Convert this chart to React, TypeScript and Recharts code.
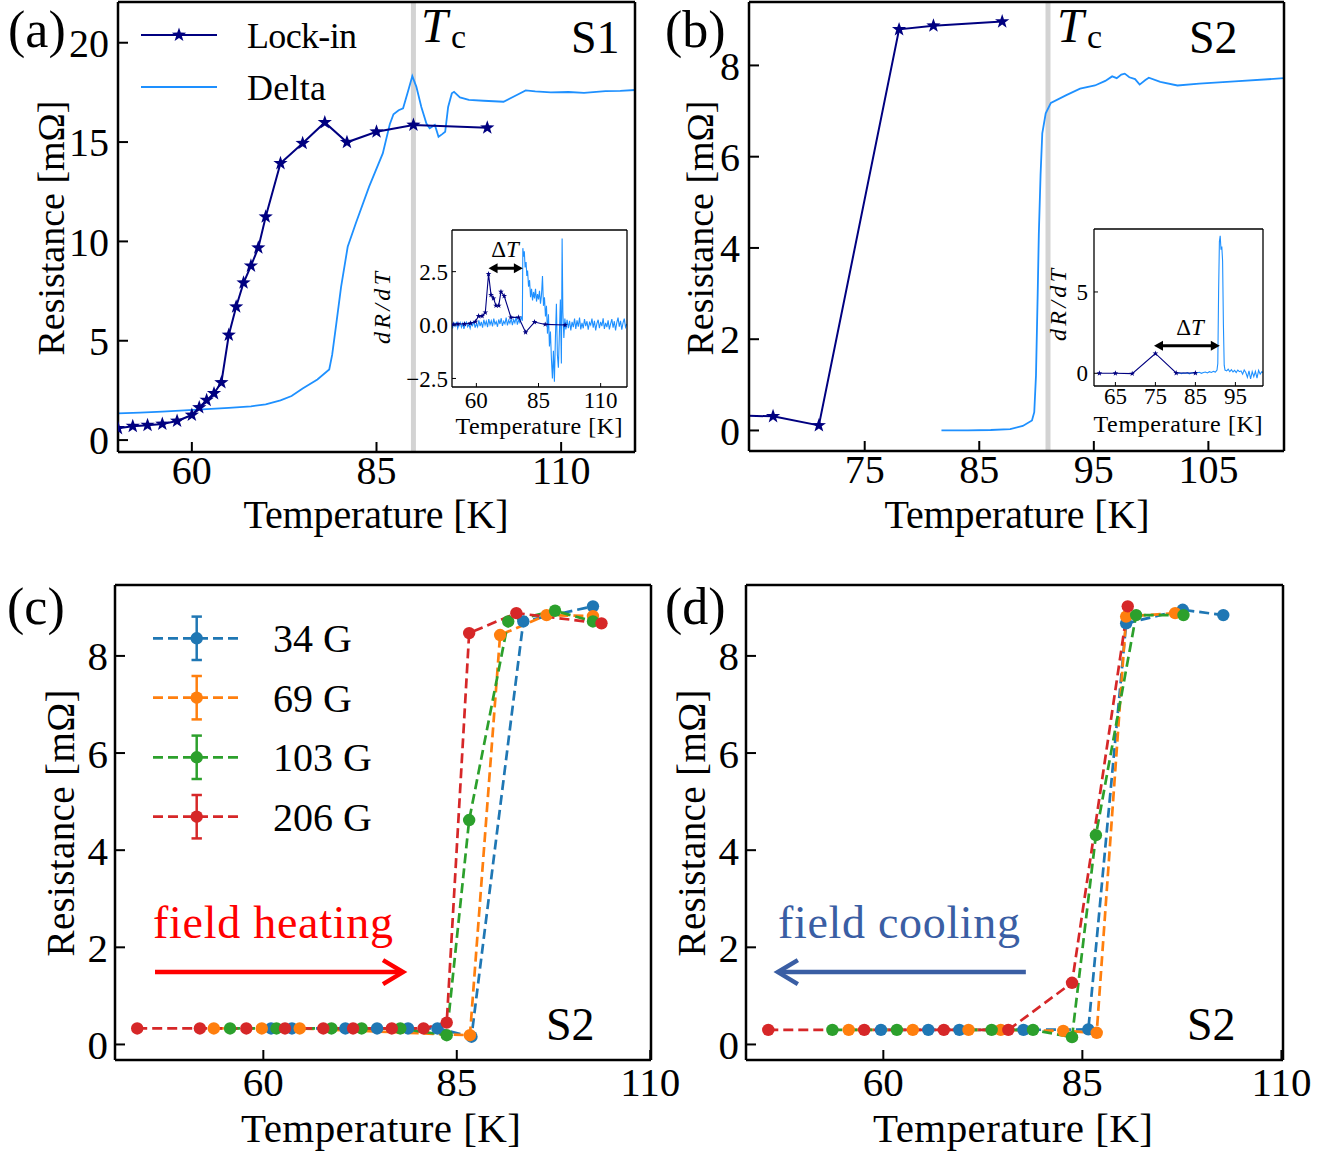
import React from 'react';
import { LineChart, Line, XAxis, YAxis, ReferenceLine } from 'recharts';

const FONT = '"Liberation Serif", "Times New Roman", serif';
const NAVY = '#000080';
const DELTA_BLUE = '#1e90ff';
const TC_GREY = '#d3d3d3';
const FIELD_COLORS = ['#1f77b4', '#ff7f0e', '#2ca02c', '#d62728'];
const FIELD_LABELS = ['34 G', '69 G', '103 G', '206 G'];
const HEAT_RED = '#ff0000';
const COOL_BLUE = '#3a5ea4';

// ---------- (a) sample S1: resistance vs temperature ----------
const s1LockIn: [number, number][] = [
  [50, 0.59], [52, 0.70], [54, 0.75], [56, 0.81], [58, 0.96], [60, 1.26], [61, 1.64], [62, 2.01],
  [63, 2.35], [64, 2.90], [65, 5.29], [66, 6.71], [67, 7.92], [68, 8.77], [69, 9.68], [70, 11.24],
  [72, 13.93], [75, 14.94], [78, 15.99], [81, 14.99], [85, 15.52], [90, 15.86], [100, 15.72],
];
const s1Delta: [number, number][] = [
  [50, 1.34], [53, 1.38], [56, 1.43], [59, 1.50], [62, 1.56], [65, 1.62], [68, 1.70], [70, 1.80],
  [72, 2.00], [73.5, 2.22], [75, 2.60], [77, 3.05], [78.6, 3.55], [79.0, 4.30], [79.5, 5.70],
  [80.2, 7.70], [81.1, 9.73], [82.2, 10.91], [84.0, 12.76], [85.85, 14.43], [86.8, 15.90],
  [87.3, 16.40], [88.0, 16.60], [88.6, 16.70], [89.3, 17.60], [89.85, 18.32], [90.4, 17.78],
  [91.07, 16.77], [91.76, 15.93], [92.2, 15.69], [92.9, 15.86], [93.4, 15.27], [93.9, 15.40],
  [94.3, 15.52], [94.7, 16.77], [95.2, 17.45], [95.5, 17.53], [96.3, 17.25], [97.5, 17.12],
  [99.5, 17.08], [102.2, 17.03], [104.0, 17.37], [105.2, 17.60], [106.5, 17.55], [108.6, 17.50],
  [111, 17.52], [113.1, 17.48], [116, 17.56], [118, 17.58], [120, 17.62],
];
const s1Tc = 90;

// inset (a): dR/dT
const s1dLockIn: [number, number][] = [
  [50.7, 0.03], [52.6, 0.05], [55.2, 0.05], [57.6, 0.08], [59.6, 0.16], [60.9, 0.42], [62.3, 0.42],
  [63.6, 0.59], [64.9, 2.39], [65.9, 1.41], [66.9, 1.25], [67.9, 0.91], [69.0, 0.91], [69.9, 1.56],
  [71.2, 1.36], [73.9, 0.36], [77.0, 0.36], [79.8, -0.34], [83.4, 0.14], [87.7, 0.03], [95.7, 0.0],
];
const s1dDelta: [number, number][] = [
  [50.0, 0.05], [50.5, -0.12], [51.0, 0.10], [51.5, -0.05], [52.0, 0.15], [52.5, -0.15], [53.0, 0.02],
  [53.5, 0.12], [54.0, -0.10], [54.5, 0.08], [55.0, -0.18], [55.5, 0.05], [56.0, 0.14], [56.5, -0.08],
  [57.0, 0.03], [57.5, -0.16], [58.0, 0.10], [58.5, -0.02], [59.0, 0.18], [59.5, -0.12], [60.0, 0.06],
  [60.5, -0.08], [61.0, 0.22], [61.5, -0.05], [62.0, 0.15], [62.5, -0.12], [63.0, 0.25], [63.5, 0.00],
  [64.0, 0.18], [64.5, -0.10], [65.0, 0.28], [65.5, 0.02], [66.0, 0.20], [66.5, -0.06], [67.0, 0.30],
  [67.5, 0.04], [68.0, 0.16], [68.5, -0.08], [69.0, 0.26], [69.5, 0.05], [70.0, 0.32], [70.5, -0.04],
  [71.0, 0.18], [71.5, 0.06], [72.0, 0.35], [72.5, -0.02], [73.0, 0.22], [73.5, 0.08], [74.0, 0.30],
  [74.5, 0.00], [75.0, 0.25], [75.5, 0.10], [76.0, 0.38], [76.5, 0.02], [77.0, 0.24], [77.5, 0.12],
  [78.0, 0.40], [78.5, 0.20], [78.7, 3.60], [79.0, 3.20], [79.3, 3.45], [79.6, 2.70], [80.0, 2.95],
  [80.3, 2.30], [80.6, 2.55], [81.0, 1.80], [81.4, 2.10], [81.8, 1.30], [82.2, 1.70], [82.6, 1.15],
  [83.0, 1.55], [83.4, 1.25], [83.8, 1.70], [84.2, 1.10], [84.6, 1.45], [85.0, 1.20], [85.4, 1.60],
  [85.8, 1.00], [86.2, 1.40], [86.6, 2.30], [87.0, 0.90], [87.4, 1.30], [87.8, 0.40], [88.2, 0.90],
  [88.6, -0.40], [89.0, 0.50], [89.4, -1.00], [89.8, -0.30], [90.2, -1.60], [90.6, -2.50], [91.0, -1.20],
  [91.4, -2.65], [91.8, -0.60], [92.2, 1.00], [92.6, -1.40], [93.0, -2.00], [93.4, -0.40], [93.8, 1.20],
  [94.2, -1.80], [94.5, 4.05], [94.8, 0.60], [95.2, -0.60], [95.6, 0.30], [96.0, -0.20], [96.5, 0.25],
  [97.0, -0.15], [97.5, 0.20], [98.0, -0.25], [98.5, 0.15], [99.0, -0.10], [99.5, 0.30], [100.0, -0.18],
  [100.5, 0.22], [101.0, -0.08], [101.5, 0.35], [102.0, -0.20], [102.5, 0.10], [103.0, -0.15],
  [103.5, 0.28], [104.0, -0.05], [104.5, 0.18], [105.0, -0.22], [105.5, 0.12], [106.0, 0.00],
  [106.5, 0.30], [107.0, -0.12], [107.5, 0.20], [108.0, -0.25], [108.5, 0.08], [109.0, 0.25],
  [109.5, -0.15], [110.0, 0.15], [110.5, -0.05], [111.0, 0.32], [111.5, -0.18], [112.0, 0.10],
  [112.5, -0.10], [113.0, 0.22], [113.5, -0.20], [114.0, 0.05], [114.5, 0.28], [115.0, -0.12],
  [115.5, 0.18], [116.0, -0.25], [116.5, 0.12], [117.0, 0.35], [117.5, -0.08], [118.0, 0.20],
  [118.5, -0.22], [119.0, 0.10], [119.5, 0.30], [120.0, -0.10], [120.5, 0.05],
];
const s1WidthSpan = [64.9, 78.7];
const s1WidthLevel = 2.66;

// ---------- (b) sample S2: resistance vs temperature ----------
const s2LockIn: [number, number][] = [
  [63, 0.33], [67, 0.31], [71, 0.11], [78, 8.79], [81, 8.87], [87, 8.96],
];
const s2Delta: [number, number][] = [
  [81.7, 0.0], [84, 0.0], [86, 0.01], [87.7, 0.03], [88.8, 0.10], [89.6, 0.22], [89.8, 0.40],
  [89.95, 1.2], [90.1, 3.0], [90.2, 4.32], [90.35, 5.6], [90.5, 6.51], [90.8, 6.95], [91.25, 7.18],
  [92.6, 7.35], [93.8, 7.49], [95.1, 7.56], [96.0, 7.66], [96.6, 7.76], [97.0, 7.72], [97.4, 7.80],
  [97.7, 7.82], [98.1, 7.74], [98.6, 7.70], [99.0, 7.58], [99.5, 7.68], [99.8, 7.73], [100.8, 7.64],
  [102.3, 7.56], [104.2, 7.60], [107.3, 7.65], [111.6, 7.72],
];
const s2Tc = 91;

// inset (b): dR/dT
const s2dLockIn: [number, number][] = [
  [61, 0.0], [65, 0.0], [69.2, -0.02], [75, 1.22], [80.2, 0.02], [85, 0.02],
];
const s2dDelta: [number, number][] = [
  [80.5, 0.00], [81.0, 0.03], [81.5, -0.02], [82.0, 0.02], [82.5, 0.00], [83.0, 0.04], [83.5, -0.03],
  [84.0, 0.02], [84.5, 0.05], [85.0, -0.02], [85.5, 0.03], [86.0, 0.06], [86.5, 0.00], [87.0, 0.05],
  [87.5, 0.08], [88.0, 0.02], [88.5, 0.10], [89.0, 0.05], [89.5, 0.12], [90.0, 0.08], [90.4, 0.20],
  [90.6, 0.60], [90.8, 5.00], [91.0, 8.10], [91.2, 8.45], [91.4, 7.60], [91.6, 7.80], [91.8, 6.90],
  [92.0, 3.00], [92.2, 0.50], [92.4, 0.20], [92.8, 0.15], [93.2, 0.25], [93.6, 0.10], [94.0, 0.22],
  [94.4, 0.08], [94.8, 0.18], [95.2, 0.05], [95.6, 0.20], [96.0, 0.10], [96.4, 0.15], [96.8, -0.05],
  [97.2, 0.20], [97.6, 0.05], [98.0, -0.25], [98.4, 0.15], [98.8, -0.35], [99.2, 0.10], [99.6, -0.20],
  [100.0, 0.12], [100.4, -0.30], [100.8, 0.18], [101.2, -0.05], [101.6, 0.10], [101.9, 0.05],
];
const s2WidthSpan = [74.65, 91.1];
const s2WidthLevel = 1.69;

// ---------- (c) field heating, S2 ----------
const heat34: [number, number][] = [
  [61.0, 0.33], [63.7, 0.33], [70.6, 0.33], [74.7, 0.33], [78.7, 0.33], [82.5, 0.33], [86.9, 0.16],
  [93.6, 8.71], [102.6, 9.02],
];
const heat69: [number, number][] = [
  [53.6, 0.33], [59.8, 0.33], [64.7, 0.33], [86.7, 0.19], [90.6, 8.43], [96.6, 8.84], [102.6, 8.82],
];
const heat103: [number, number][] = [
  [55.7, 0.33], [61.7, 0.33], [68.8, 0.33], [72.7, 0.33], [77.7, 0.33], [83.7, 0.19], [86.6, 4.62],
  [91.65, 8.71], [97.7, 8.93], [102.6, 8.71],
];
const heat206: [number, number][] = [
  [43.7, 0.33], [51.8, 0.33], [57.8, 0.33], [62.8, 0.33], [67.75, 0.33], [71.6, 0.33], [76.6, 0.33],
  [80.7, 0.33], [83.7, 0.45], [86.6, 8.47], [92.7, 8.88], [103.7, 8.67],
];
const heatArrow = [46.0, 78.05];

// ---------- (d) field cooling, S2 ----------
const cool34: [number, number][] = [
  [59.7, 0.30], [65.65, 0.30], [69.55, 0.30], [77.6, 0.30], [85.75, 0.31], [90.5, 8.67], [97.6, 8.95],
  [102.7, 8.84],
];
const cool69: [number, number][] = [
  [55.65, 0.30], [63.7, 0.30], [70.7, 0.30], [74.75, 0.30], [82.6, 0.28], [86.8, 0.24], [90.5, 8.81],
  [96.65, 8.88],
];
const cool103: [number, number][] = [
  [53.6, 0.30], [61.7, 0.30], [73.6, 0.30], [78.8, 0.30], [83.7, 0.15], [86.7, 4.31], [91.75, 8.84],
  [97.7, 8.84],
];
const cool206: [number, number][] = [
  [45.55, 0.30], [57.6, 0.30], [67.6, 0.30], [75.7, 0.30], [83.7, 1.27], [90.7, 9.02],
];
const coolArrow = [77.9, 46.75];
const arrowLevel = 1.49;

const toRows = (pairs: [number, number][]) => pairs.map(([t, r]) => ({ t, r }));
// vertical guide at T_c spanning well past the visible resistance range (clipped by the plot)
const tcRows = (tc: number) => [{ t: tc, r: -100 }, { t: tc, r: 100 }];

// ---------- drawing helpers ----------
function starPoints(cx: number, cy: number, R: number) {
  const inner = R * 0.4;
  const pts: string[] = [];
  for (let i = 0; i < 10; i++) {
    const a = -Math.PI / 2 + (i * Math.PI) / 5;
    const rad = i % 2 === 0 ? R : inner;
    pts.push(`${cx + rad * Math.cos(a)},${cy + rad * Math.sin(a)}`);
  }
  return pts.join(' ');
}

const starDot = (R: number) => (p: any) => {
  if (p.cx == null || p.cy == null) return <g key={p.index} />;
  return <polygon key={p.index} points={starPoints(p.cx, p.cy, R)} fill={NAVY} />;
};

type FrameSpec = {
  xDomain: [number, number];
  xTicks: number[];
  yDomain: [number, number];
  yTicks: number[];
  xh: number;
  yw: number;
  tl: number;
  fw: number;
  tw: number;
  fs: number;
  xm: number;
  ym: number;
  yfmt?: (v: number) => string;
};

function frameAxes(s: FrameSpec) {
  const axisLine = { stroke: '#000', strokeWidth: s.fw };
  const tickLine = { stroke: '#000', strokeWidth: s.tw };
  const tick = { fill: '#000', fontSize: s.fs, fontFamily: FONT };
  return [
    <XAxis key="xb" xAxisId="b" type="number" dataKey="t" domain={s.xDomain} ticks={s.xTicks}
      allowDataOverflow interval={0} height={s.xh} tickSize={-s.tl} tickMargin={s.xm}
      axisLine={axisLine} tickLine={tickLine} tick={tick} />,
    <XAxis key="xt" xAxisId="t" type="number" orientation="top" domain={s.xDomain} ticks={s.xTicks}
      allowDataOverflow interval={0} height={1} tickSize={-s.tl}
      axisLine={axisLine} tickLine={tickLine} tick={false} />,
    <YAxis key="yl" yAxisId="l" type="number" domain={s.yDomain} ticks={s.yTicks}
      allowDataOverflow interval={0} width={s.yw} tickSize={-s.tl} tickMargin={s.ym}
      axisLine={axisLine} tickLine={tickLine} tick={tick} tickFormatter={s.yfmt} />,
    <YAxis key="yr" yAxisId="r" type="number" orientation="right" domain={s.yDomain} ticks={s.yTicks}
      allowDataOverflow interval={0} width={1} tickSize={-s.tl}
      axisLine={axisLine} tickLine={tickLine} tick={false} />,
  ];
}

const DoubleArrow = (p: any) => {
  const xa = Math.min(p.x1, p.x2);
  const xb = Math.max(p.x1, p.x2);
  const y = p.y1;
  const h = 9;
  const w = 5;
  return (
    <g>
      <line x1={xa + h - 1} y1={y} x2={xb - h + 1} y2={y} stroke="#000" strokeWidth={3} />
      <polygon points={`${xa},${y} ${xa + h},${y - w} ${xa + h},${y + w}`} fill="#000" />
      <polygon points={`${xb},${y} ${xb - h},${y - w} ${xb - h},${y + w}`} fill="#000" />
    </g>
  );
};

const fieldArrow = (color: string) => (p: any) => {
  const dir = Math.sign(p.x2 - p.x1) || 1;
  const { x1, x2, y1 } = p;
  return (
    <g>
      <line x1={x1} y1={y1} x2={x2 - dir * 2} y2={y1} stroke={color} strokeWidth={4.5} />
      <polyline points={`${x2 - dir * 20},${y1 - 12} ${x2},${y1} ${x2 - dir * 20},${y1 + 12}`}
        fill="none" stroke={color} strokeWidth={4.5} strokeLinejoin="miter" />
    </g>
  );
};

const Box = ({ left, top, children }: { left: number; top: number; children: React.ReactNode }) => (
  <div style={{ position: 'absolute', left, top }}>{children}</div>
);

const fmtInset = (v: number) => (v < 0 ? '\u2212' + Math.abs(v).toFixed(1) : v.toFixed(1));

function fieldLines(series: [number, number][][]) {
  return series.map((s, i) => (
    <Line key={FIELD_LABELS[i]} xAxisId="b" yAxisId="l" data={toRows(s)} dataKey="r" type="linear"
      stroke={FIELD_COLORS[i]} strokeWidth={2.7} strokeDasharray="10 5" isAnimationActive={false}
      dot={{ r: 6.2, fill: FIELD_COLORS[i], stroke: 'none', strokeWidth: 0, strokeDasharray: '' }}
      activeDot={false} />
  ));
}

const mainTicksCD = { xTicks: [60, 85, 110], yTicks: [0, 2, 4, 6, 8], xh: 60, yw: 80, tl: 10, fw: 2.5, tw: 2, fs: 41, xm: 17, ym: 17 };

export default function App() {
  const serif = { fontFamily: FONT, fill: '#000' } as const;
  const legendRows = [638.3, 697.7, 757.3, 816.7];
  return (
    <div style={{ position: 'absolute', left: 0, top: 0, width: 1335, height: 1153, background: '#fff', overflow: 'hidden' }}>
      {/* (a) S1 */}
      <Box left={0} top={0}>
        <LineChart width={660} height={520} margin={{ top: 1, right: 24, bottom: 8, left: 38 }}>
          {frameAxes({ xDomain: [50, 120], xTicks: [60, 85, 110], yDomain: [-0.6, 22.05], yTicks: [0, 5, 10, 15, 20], xh: 60, yw: 80, tl: 10, fw: 2.5, tw: 2, fs: 40, xm: 14, ym: 19 })}
          <Line xAxisId="b" yAxisId="l" data={tcRows(s1Tc)} dataKey="r" stroke={TC_GREY} strokeWidth={5} dot={false} activeDot={false} isAnimationActive={false} />
          <Line xAxisId="b" yAxisId="l" data={toRows(s1Delta)} dataKey="r" stroke={DELTA_BLUE} strokeWidth={1.8} dot={false} activeDot={false} isAnimationActive={false} />
          <Line xAxisId="b" yAxisId="l" data={toRows(s1LockIn)} dataKey="r" stroke={NAVY} strokeWidth={2} dot={starDot(7.5)} activeDot={false} isAnimationActive={false} />
        </LineChart>
      </Box>

      {/* (b) S2 */}
      <Box left={660} top={0}>
        <LineChart width={650} height={520} margin={{ top: 1, right: 25, bottom: 9, left: 9 }}>
          {frameAxes({ xDomain: [64.9, 111.6], xTicks: [75, 85, 95, 105], yDomain: [-0.45, 9.39], yTicks: [0, 2, 4, 6, 8], xh: 60, yw: 80, tl: 10, fw: 2.5, tw: 2, fs: 40, xm: 14, ym: 19 })}
          <Line xAxisId="b" yAxisId="l" data={tcRows(s2Tc)} dataKey="r" stroke={TC_GREY} strokeWidth={5} dot={false} activeDot={false} isAnimationActive={false} />
          <Line xAxisId="b" yAxisId="l" data={toRows(s2Delta)} dataKey="r" stroke={DELTA_BLUE} strokeWidth={1.8} dot={false} activeDot={false} isAnimationActive={false} />
          <Line xAxisId="b" yAxisId="l" data={toRows(s2LockIn)} dataKey="r" stroke={NAVY} strokeWidth={2} dot={starDot(7.5)} activeDot={false} isAnimationActive={false} />
        </LineChart>
      </Box>

      {/* (c) field heating */}
      <Box left={0} top={560}>
        <LineChart width={680} height={560} margin={{ top: 24, right: 28, bottom: 0, left: 35 }}>
          {frameAxes({ ...mainTicksCD, xDomain: [40.83, 110.1], yDomain: [-0.32, 9.46] })}
          {fieldLines([heat34, heat69, heat103, heat206])}
          <ReferenceLine xAxisId="b" yAxisId="l" segment={[{ x: heatArrow[0], y: arrowLevel }, { x: heatArrow[1], y: arrowLevel }]}
            shape={fieldArrow(HEAT_RED)} />
        </LineChart>
      </Box>

      {/* (d) field cooling */}
      <Box left={660} top={560}>
        <LineChart width={670} height={560} margin={{ top: 24, right: 46, bottom: 0, left: 6 }}>
          {frameAxes({ ...mainTicksCD, xDomain: [42.75, 110.2], yDomain: [-0.32, 9.46] })}
          {fieldLines([cool34, cool69, cool103, cool206])}
          <ReferenceLine xAxisId="b" yAxisId="l" segment={[{ x: coolArrow[0], y: arrowLevel }, { x: coolArrow[1], y: arrowLevel }]}
            shape={fieldArrow(COOL_BLUE)} />
        </LineChart>
      </Box>

      {/* inset (a) */}
      <Box left={400} top={220}>
        <LineChart width={240} height={200} margin={{ top: 9, right: 12, bottom: 3, left: 0 }}>
          {frameAxes({ xDomain: [50.2, 120.6], xTicks: [60, 85, 110], yDomain: [-2.9, 4.45], yTicks: [-2.5, 0, 2.5], xh: 30, yw: 52, tl: 4, fw: 1.3, tw: 1, fs: 23, xm: 9, ym: 8, yfmt: fmtInset })}
          <Line xAxisId="b" yAxisId="l" data={toRows(s1dDelta)} dataKey="r" stroke={DELTA_BLUE} strokeWidth={1.1} dot={false} activeDot={false} isAnimationActive={false} />
          <Line xAxisId="b" yAxisId="l" data={toRows(s1dLockIn)} dataKey="r" stroke={NAVY} strokeWidth={1.1} dot={starDot(3)} activeDot={false} isAnimationActive={false} />
          <ReferenceLine xAxisId="b" yAxisId="l" segment={[{ x: s1WidthSpan[0], y: s1WidthLevel }, { x: s1WidthSpan[1], y: s1WidthLevel }]} shape={DoubleArrow} />
        </LineChart>
      </Box>

      {/* inset (b) */}
      <Box left={1040} top={219}>
        <LineChart width={240} height={200} margin={{ top: 9, right: 16, bottom: 3, left: 0 }}>
          {frameAxes({ xDomain: [59.65, 101.9], xTicks: [65, 75, 85, 95], yDomain: [-0.78, 8.87], yTicks: [0, 5], xh: 30, yw: 54, tl: 4, fw: 1.3, tw: 1, fs: 23, xm: 6, ym: 10 })}
          <Line xAxisId="b" yAxisId="l" data={toRows(s2dDelta)} dataKey="r" stroke={DELTA_BLUE} strokeWidth={1.1} dot={false} activeDot={false} isAnimationActive={false} />
          <Line xAxisId="b" yAxisId="l" data={toRows(s2dLockIn)} dataKey="r" stroke={NAVY} strokeWidth={1.1} dot={starDot(3)} activeDot={false} isAnimationActive={false} />
          <ReferenceLine xAxisId="b" yAxisId="l" segment={[{ x: s2WidthSpan[0], y: s2WidthLevel }, { x: s2WidthSpan[1], y: s2WidthLevel }]} shape={DoubleArrow} />
        </LineChart>
      </Box>

      {/* labels, legends and annotations */}
      <svg width={1335} height={1153} style={{ position: 'absolute', left: 0, top: 0, pointerEvents: 'none' }}>
        <g style={serif}>
          <text x={8} y={47} fontSize={52}>(a)</text>
          <text x={665} y={47} fontSize={52}>(b)</text>
          <text x={7} y={624} fontSize={52}>(c)</text>
          <text x={665} y={624} fontSize={52}>(d)</text>

          {/* axis titles */}
          <text x={376} y={528} fontSize={40} textAnchor="middle" textLength={265}>Temperature [K]</text>
          <text x={1017} y={528} fontSize={40} textAnchor="middle" textLength={265}>Temperature [K]</text>
          <text x={381} y={1142} fontSize={41} textAnchor="middle" textLength={280}>Temperature [K]</text>
          <text x={1013} y={1142} fontSize={41} textAnchor="middle" textLength={280}>Temperature [K]</text>
          <text transform="translate(64,228) rotate(-90)" fontSize={38} textAnchor="middle" textLength={255}>Resistance [mΩ]</text>
          <text transform="translate(713,228) rotate(-90)" fontSize={38} textAnchor="middle" textLength={255}>Resistance [mΩ]</text>
          <text transform="translate(74,823) rotate(-90)" fontSize={39} textAnchor="middle" textLength={267}>Resistance [mΩ]</text>
          <text transform="translate(705,823) rotate(-90)" fontSize={39} textAnchor="middle" textLength={267}>Resistance [mΩ]</text>

          {/* (a) legend */}
          <line x1={141} y1={35} x2={217} y2={35} stroke={NAVY} strokeWidth={2} />
          <polygon points={starPoints(179, 35, 7.5)} fill={NAVY} />
          <text x={247} y={48} fontSize={36} textLength={110}>Lock-in</text>
          <line x1={141} y1={87} x2={217} y2={87} stroke={DELTA_BLUE} strokeWidth={1.8} />
          <text x={247} y={100} fontSize={36} textLength={79}>Delta</text>

          {/* T_c marks and sample names */}
          <text x={421} y={42} fontSize={48} fontStyle="italic">T</text>
          <text x={451} y={48} fontSize={34}>c</text>
          <text x={571} y={53} fontSize={46}>S1</text>
          <text x={1057} y={42} fontSize={48} fontStyle="italic">T</text>
          <text x={1087} y={48} fontSize={34}>c</text>
          <text x={1189} y={53} fontSize={46}>S2</text>

          {/* inset labels */}
          <text transform="translate(390,308) rotate(-90)" fontSize={24} fontStyle="italic" textAnchor="middle" textLength={72}>dR/dT</text>
          <text x={539} y={434} fontSize={24} textAnchor="middle" textLength={167}>Temperature [K]</text>
          <text x={505} y={257} fontSize={23} textAnchor="middle">Δ<tspan fontStyle="italic">T</tspan></text>
          <text transform="translate(1066,305) rotate(-90)" fontSize={24} fontStyle="italic" textAnchor="middle" textLength={72}>dR/dT</text>
          <text x={1178} y={432} fontSize={24} textAnchor="middle" textLength={169}>Temperature [K]</text>
          <text x={1190} y={335} fontSize={23} textAnchor="middle">Δ<tspan fontStyle="italic">T</tspan></text>

          {/* (c) legend */}
          {FIELD_LABELS.map((lab, i) => {
            const cy = legendRows[i];
            const c = FIELD_COLORS[i];
            return (
              <g key={lab}>
                <line x1={153} y1={cy} x2={238} y2={cy} stroke={c} strokeWidth={2.7} strokeDasharray="10 5" />
                <line x1={196.7} y1={cy - 21.7} x2={196.7} y2={cy + 21.7} stroke={c} strokeWidth={2.5} />
                <line x1={191.5} y1={cy - 21.7} x2={201.9} y2={cy - 21.7} stroke={c} strokeWidth={2.5} />
                <line x1={191.5} y1={cy + 21.7} x2={201.9} y2={cy + 21.7} stroke={c} strokeWidth={2.5} />
                <circle cx={196.7} cy={cy} r={6.2} fill={c} />
                <text x={273} y={cy + 14} fontSize={40}>{lab}</text>
              </g>
            );
          })}

          <text x={153} y={938} fontSize={46} fill={HEAT_RED} textLength={240}>field heating</text>
          <text x={778} y={938} fontSize={46} fill={COOL_BLUE} textLength={242}>field cooling</text>
          <text x={546} y={1040} fontSize={46}>S2</text>
          <text x={1187} y={1040} fontSize={46}>S2</text>
        </g>
      </svg>
    </div>
  );
}
